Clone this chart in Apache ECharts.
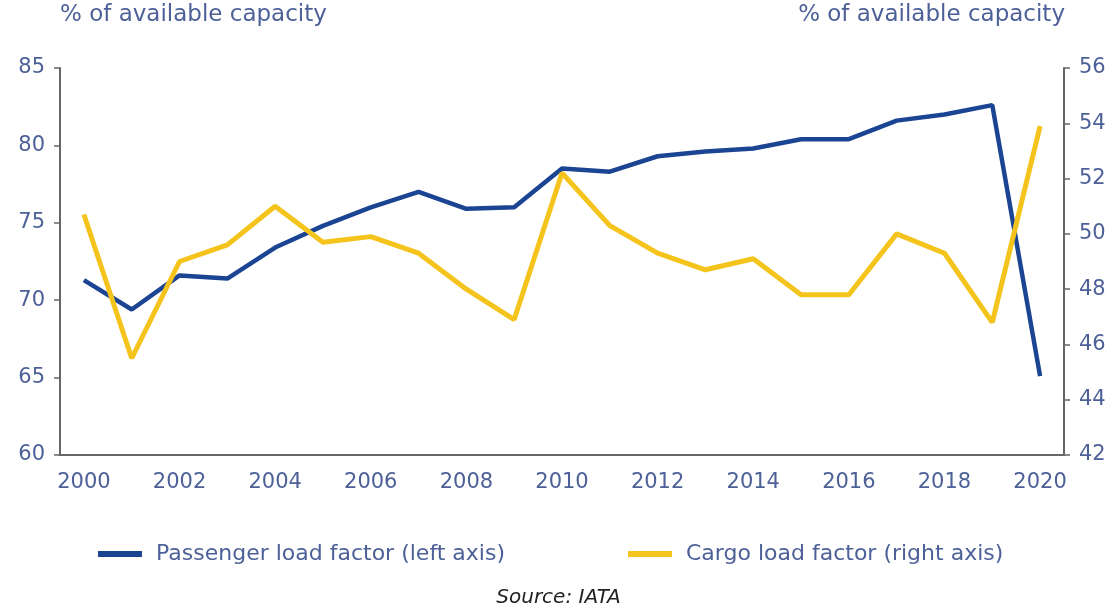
<!DOCTYPE html>
<html lang="en">
  <head>
    <meta charset="UTF-8" />
    <title>Load factors</title>
    <script src="https://cdn.jsdelivr.net/npm/echarts@6/dist/echarts.min.js"></script>
    <style>
      html, body { margin: 0; padding: 0; background: #fff; }
      #main { width: 1117px; height: 613px; }
    </style>
  </head>
  <body>
    <div id="main"></div>
    <script>
      const years = ['2000', '2001', '2002', '2003', '2004', '2005', '2006', '2007', '2008', '2009', '2010',
        '2011', '2012', '2013', '2014', '2015', '2016', '2017', '2018', '2019', '2020'];
      const passengerLoad = [71.3, 69.4, 71.6, 71.4, 73.4, 74.8, 76.0, 77.0, 75.9, 76.0, 78.5,
        78.3, 79.3, 79.6, 79.8, 80.4, 80.4, 81.6, 82.0, 82.6, 65.1];
      const cargoLoad = [50.7, 45.5, 49.0, 49.6, 51.0, 49.7, 49.9, 49.3, 48.0, 46.9, 52.2,
        50.3, 49.3, 48.7, 49.1, 47.8, 47.8, 50.0, 49.3, 46.8, 53.9];
      const leftTicks = { min: 60, max: 85, interval: 5 };
      const rightTicks = { min: 42, max: 56, interval: 2 };
      const seriesNames = ['Passenger load factor (left axis)', 'Cargo load factor (right axis)'];

      const textBlue = '#4d6198';
      const axisGrey = '#666666';
      const font = 'DejaVu Sans';

      const chart = echarts.init(document.getElementById('main'));

      const yAxisBase = {
        type: 'value',
        splitLine: { show: false },
        axisLine: { show: true, lineStyle: { color: axisGrey, width: 2 } },
        axisTick: { show: true, length: 6, lineStyle: { color: axisGrey, width: 1.5 } },
        axisLabel: { color: textBlue, fontFamily: font, fontSize: 21, margin: 15 }
      };

      const legendBase = {
        top: 538,
        itemWidth: 44,
        itemHeight: 6,
        icon: 'rect',
        textStyle: { color: textBlue, fontFamily: font, fontSize: 22, padding: [0, 0, 0, 9] }
      };

      chart.setOption({
        animation: false,
        grid: { left: 60, right: 53, top: 68, bottom: 158 },
        graphic: [
          {
            type: 'text', left: 60, top: 4,
            style: { text: '% of available capacity', fill: textBlue, font: '23px "DejaVu Sans"' }
          },
          {
            type: 'text', right: 52, top: 4,
            style: { text: '% of available capacity', fill: textBlue, font: '23px "DejaVu Sans"' }
          },
          {
            type: 'text', left: 'center', top: 588,
            style: { text: 'Source: IATA', fill: '#222', font: 'italic 20px "DejaVu Sans"' }
          }
        ],
        legend: [
          Object.assign({}, legendBase, { left: 93, data: [seriesNames[0]] }),
          Object.assign({}, legendBase, { left: 623, data: [seriesNames[1]] })
        ],
        xAxis: {
          type: 'category',
          data: years,
          boundaryGap: true,
          axisLine: { lineStyle: { color: axisGrey, width: 2 } },
          axisTick: { show: false },
          axisLabel: { interval: 1, color: textBlue, fontFamily: font, fontSize: 21, margin: 17 }
        },
        yAxis: [
          Object.assign({}, yAxisBase, leftTicks, { position: 'left' }),
          Object.assign({}, yAxisBase, rightTicks, { position: 'right' })
        ],
        series: [
          {
            name: seriesNames[0],
            type: 'line',
            yAxisIndex: 0,
            data: passengerLoad,
            symbol: 'none',
            color: '#1b4592',
            lineStyle: { width: 4.5, color: '#1b4592' }
          },
          {
            name: seriesNames[1],
            type: 'line',
            yAxisIndex: 1,
            data: cargoLoad,
            symbol: 'none',
            color: '#f4c41c',
            lineStyle: { width: 5, color: '#f4c41c' }
          }
        ]
      });

      window.onresize = function () {
        chart.resize();
      };
    </script>
  </body>
</html>
